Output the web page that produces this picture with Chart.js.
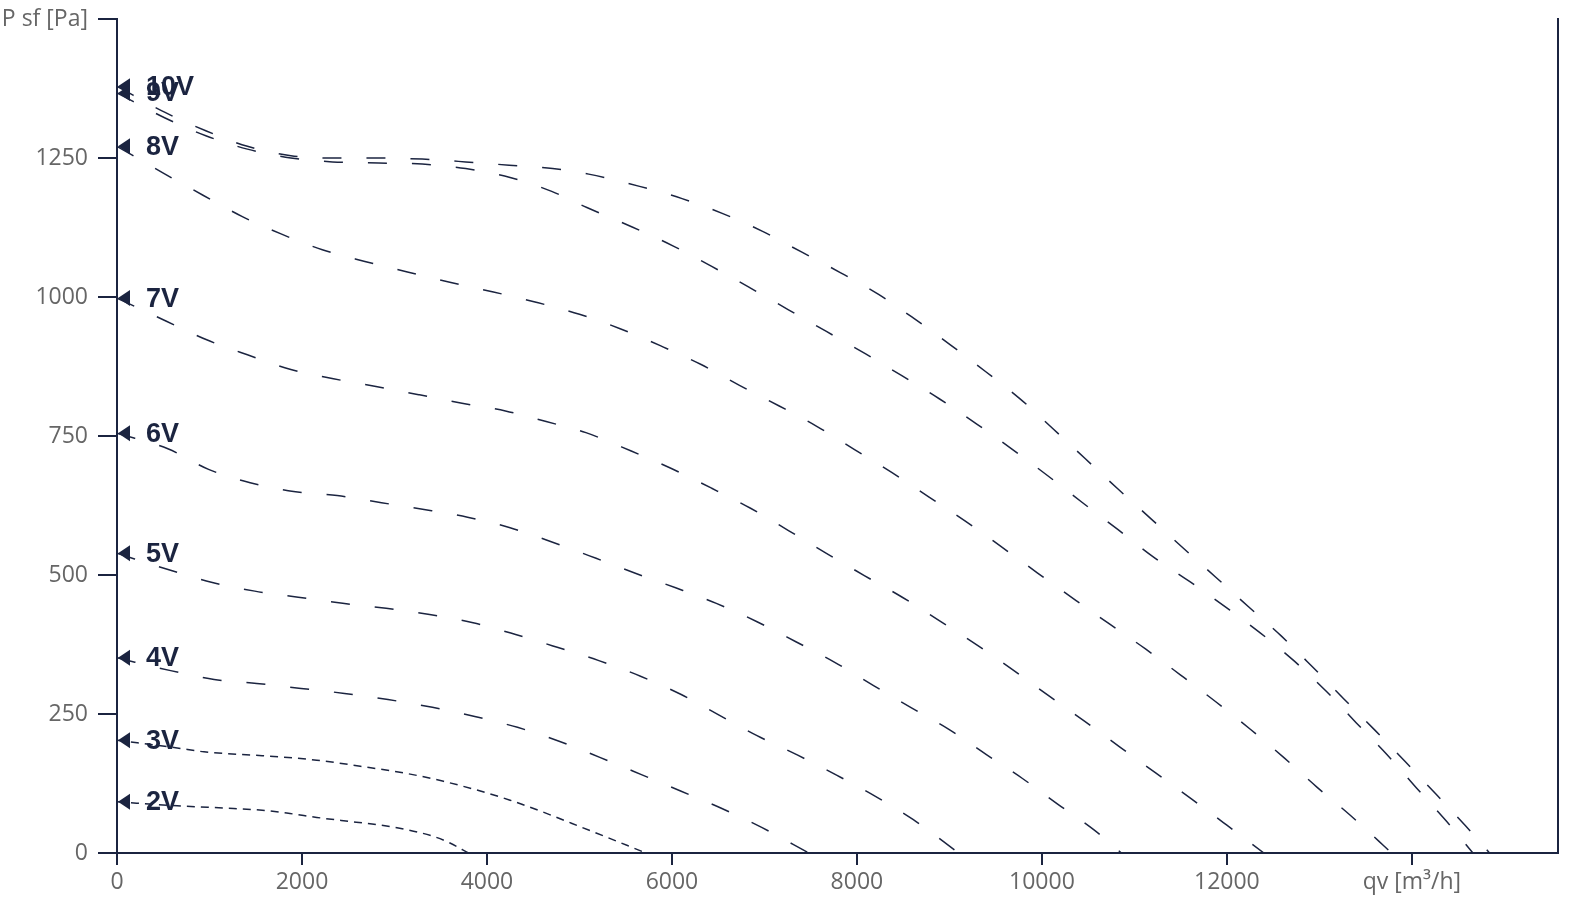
<!DOCTYPE html>
<html>
<head>
<meta charset="utf-8">
<script src="https://cdn.jsdelivr.net/npm/chart.js@4/dist/chart.umd.min.js"></script>
<style>
  html, body { margin: 0; padding: 0; background: #ffffff; }
  #wrap { width: 1584px; height: 906px; }
</style>
</head>
<body>
<div id="wrap"><canvas id="c" width="1584" height="906"></canvas></div>
<script>
// ---- data ----
const seriesNames = ['10V', '9V', '8V', '7V', '6V', '5V', '4V', '3V', '2V'];

const q10V = [0,520,960,1410,1880,2330,2830,3300,3770,4240,4710,5100,5650,6110,6550,6980,7400,7820,8230,8620,9010,9390,9770,10120,10470,10820,11180,11530,11880,12240,12590,12930,13260,13600,13930,14260,14580,14840];
const p10V = [1379,1332,1299,1271,1254,1250,1250,1248,1243,1237,1231,1221,1199,1177,1150,1118,1081,1044,1005,961,914,866,816,763,709,655,601,548,496,442,390,334,278,221,164,106,49,0];

const q9V = [0,520,960,1410,1880,2330,2830,3300,3770,4250,4700,5080,5570,6010,6430,6850,7260,7670,8090,8490,8890,9300,9680,10060,10440,10820,11200,11600,11980,12360,12730,13080,13400,13730,14050,14370,14660];
const p9V = [1367,1322,1290,1266,1250,1243,1241,1239,1231,1215,1190,1161,1126,1092,1055,1016,977,938,898,858,817,771,726,679,630,582,533,488,443,396,345,290,234,177,117,58,0];

const q8V = [0,510,930,1350,1780,2220,2680,3140,3610,4070,4520,5000,5440,5880,6310,6730,7160,7570,7970,8380,8780,9180,9560,9950,10370,10730,11120,11500,11880,12250,12620,12970,13340,13690,13780];
const p8V = [1271,1222,1183,1145,1113,1085,1064,1045,1026,1009,991,969,943,912,879,841,804,767,726,684,640,596,551,504,454,412,367,320,272,223,171,119,67,14,0];

const q7V = [0,540,970,1410,1870,2340,2800,3270,3730,4200,4640,5070,5560,6000,6430,6850,7260,7670,8080,8490,8890,9300,9690,10080,10460,10840,11230,11620,12000,12400];
const p7V = [998,956,923,896,870,853,839,824,809,795,776,756,723,691,656,620,580,539,499,460,418,374,329,282,237,191,144,97,50,0];

const q6V = [0,550,990,1440,1910,2380,2860,3320,3790,4250,4710,5180,5590,6040,6480,6920,7340,7760,8180,8590,8990,9400,9790,10170,10560,10860];
const p6V = [755,727,690,666,650,643,630,618,604,585,559,530,504,477,449,416,380,343,301,261,223,177,134,88,42,0];

const q5V = [0,570,1020,1490,1960,2440,2910,3380,3850,4310,4760,5210,5660,6100,6510,6920,7360,7780,8200,8610,9100];
const p5V = [539,509,487,471,460,449,440,429,414,393,370,346,318,285,248,211,176,140,102,60,0];

const q4V = [0,580,1050,1510,1990,2460,2930,3410,3880,4330,4780,5220,5670,6100,6540,6970,7480];
const p4V = [351,328,312,305,296,287,276,262,245,226,201,172,141,111,80,46,0];

const q3V = [0,650,940,1570,2160,2630,3100,3530,4250,5120,5720];
const p3V = [203,189,182,175,167,156,144,129,95,40,0];

const q2V = [0,650,1260,1570,1870,2160,2450,2810,3100,3420,3600,3800];
const p2V = [92,85,80,77,71,64,58,51,43,30,18,0];

const xTicks = [0,2000,4000,6000,8000,10000,12000,14000];
const yTicks = [0,250,500,750,1000,1250,1500];
const xAxisTitle = 'qv [m³/h]';
const yAxisTitle = 'P sf [Pa]';

// ---- styling ----
const NAVY = '#1b2440';
const GREY = '#666666';
const longDash = [19, 25];
const shortDash = [8, 6];

const qs = [q10V, q9V, q8V, q7V, q6V, q5V, q4V, q3V, q2V];
const ps = [p10V, p9V, p8V, p7V, p6V, p5V, p4V, p3V, p2V];

const datasets = seriesNames.map((name, i) => ({
  label: name,
  data: qs[i].map((v, j) => ({ x: v, y: ps[i][j] })),
  borderColor: NAVY,
  borderWidth: 1.5,
  borderDash: (name === '2V' || name === '3V') ? shortDash : longDash,
  pointRadius: 0,
  fill: false,
  cubicInterpolationMode: 'monotone',
  yAxisID: 'y'
}));

const markerPlugin = {
  id: 'markers',
  afterDatasetsDraw(chart) {
    const ctx = chart.ctx;
    const xs = chart.scales.x, ys = chart.scales.y;
    ctx.save();
    ctx.fillStyle = NAVY;
    ctx.font = 'bold 27px "Liberation Sans", Arial, sans-serif';
    ctx.textBaseline = 'middle';
    ctx.textAlign = 'left';
    chart.data.datasets.forEach(ds => {
      const first = ds.data[0];
      const x0 = xs.getPixelForValue(first.x);
      const y0 = ys.getPixelForValue(first.y);
      ctx.beginPath();
      ctx.moveTo(x0 + 1, y0);
      ctx.lineTo(x0 + 13, y0 - 8);
      ctx.lineTo(x0 + 13, y0 + 8);
      ctx.closePath();
      ctx.fill();
      ctx.fillText(ds.label, x0 + 29, y0 + 1);
    });
    ctx.restore();
  }
};

const tickFont = { family: '"Open Sans", "Noto Sans", sans-serif', size: 23 };

new Chart(document.getElementById('c'), {
  type: 'line',
  data: { datasets },
  plugins: [markerPlugin],
  options: {
    responsive: false,
    animation: false,
    layout: { padding: { top: 19, left: 0, right: 0, bottom: 0 } },
    plugins: { legend: { display: false }, tooltip: { enabled: false } },
    scales: {
      x: {
        type: 'linear',
        position: 'bottom',
        min: 0,
        max: 15580,
        afterBuildTicks: (axis) => { axis.ticks = xTicks.map(v => ({ value: v })); },
        afterFit: (s) => { s.height = 53; s.paddingLeft = 0; s.paddingRight = 0; },
        ticks: {
          color: GREY,
          font: tickFont,
          padding: 4,
          maxRotation: 0,
          autoSkip: false,
          callback: (v) => v === 14000 ? xAxisTitle : String(v)
        },
        grid: { drawOnChartArea: false, drawTicks: true, tickLength: 12, color: NAVY, lineWidth: 2 },
        border: { display: true, color: NAVY, width: 2 }
      },
      y: {
        type: 'linear',
        position: 'left',
        min: 0,
        max: 1500,
        afterBuildTicks: (axis) => { axis.ticks = yTicks.map(v => ({ value: v })); },
        afterFit: (s) => { s.width = 117; s.paddingTop = 0; s.paddingBottom = 0; },
        ticks: {
          color: GREY,
          font: tickFont,
          padding: 10,
          autoSkip: false,
          callback: (v) => v === 1500 ? yAxisTitle : String(v)
        },
        grid: { drawOnChartArea: false, drawTicks: true, tickLength: 19, color: NAVY, lineWidth: 2 },
        border: { display: true, color: NAVY, width: 2 }
      },
      y2: {
        type: 'linear',
        position: 'right',
        min: 0,
        max: 1500,
        afterFit: (s) => { s.width = 26; s.paddingTop = 0; s.paddingBottom = 0; },
        ticks: { display: false },
        grid: { drawOnChartArea: false, drawTicks: false },
        border: { display: true, color: NAVY, width: 2 }
      }
    }
  }
});
</script>
</body>
</html>
